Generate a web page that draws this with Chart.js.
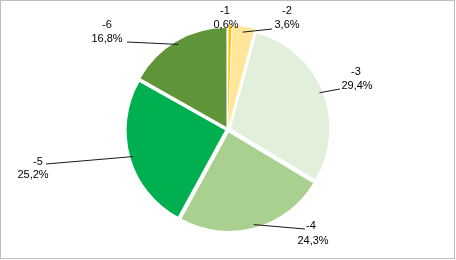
<!DOCTYPE html>
<html>
<head>
<meta charset="utf-8">
<script src="https://cdn.jsdelivr.net/npm/chart.js@4"></script>
<style>
  html, body { margin: 0; padding: 0; background: #fff; }
  #wrap { position: relative; width: 456px; height: 260px; }
</style>
</head>
<body>
<div id="wrap"><canvas id="c" width="456" height="260"></canvas></div>
<script>
const categories = ['-1', '-2', '-3', '-4', '-5', '-6'];
const values = [0.6, 3.6, 29.4, 24.3, 25.2, 16.8];
const percentLabels = ['0,6%', '3,6%', '29,4%', '24,3%', '25,2%', '16,8%'];
const colors = ['#FFC000', '#FFE699', '#E2EFDA', '#A9D08E', '#00B050', '#609438'];

// Label layout (text centres and leader-line end points), separate from data
const labelLayout = [
  { cat: [225, 11], pct: [226, 25], lineEnd: null },
  { cat: [287, 11], pct: [287, 25], lineEnd: [272, 29] },
  { cat: [356, 72], pct: [357, 86], lineEnd: [340, 89] },
  { cat: [311, 226], pct: [313, 241], lineEnd: [305, 229] },
  { cat: [38, 162], pct: [33, 175], lineEnd: [46, 164] },
  { cat: [107, 25], pct: [107, 39], lineEnd: [127, 42] }
];

const labelPlugin = {
  id: 'labelPlugin',
  afterDraw(chart) {
    const ctx = chart.ctx;
    const meta = chart.getDatasetMeta(0);
    ctx.save();
    ctx.strokeStyle = '#1a1a1a';
    ctx.lineWidth = 1;
    meta.data.forEach((arc, i) => {
      const L = labelLayout[i];
      if (!L.lineEnd) return;
      const p = arc.getProps(['x', 'y', 'startAngle', 'endAngle', 'outerRadius'], true);
      const mid = (p.startAngle + p.endAngle) / 2;
      const sx = p.x + Math.cos(mid) * (p.outerRadius);
      const sy = p.y + Math.sin(mid) * (p.outerRadius);
      ctx.beginPath();
      ctx.moveTo(sx, sy);
      ctx.lineTo(L.lineEnd[0], L.lineEnd[1]);
      ctx.stroke();
    });
    ctx.fillStyle = '#000';
    ctx.font = '11px "Liberation Sans", Arial, sans-serif';
    ctx.textAlign = 'center';
    ctx.textBaseline = 'middle';
    categories.forEach((c, i) => {
      const L = labelLayout[i];
      ctx.fillText(c, L.cat[0], L.cat[1]);
      ctx.fillText(percentLabels[i], L.pct[0], L.pct[1]);
    });
    ctx.strokeStyle = '#BFBFBF';
    ctx.lineWidth = 1;
    ctx.strokeRect(0.5, 0.5, chart.width - 2, chart.height - 2);
    ctx.restore();
  }
};

new Chart(document.getElementById('c'), {
  type: 'pie',
  data: {
    labels: categories,
    datasets: [{
      data: values,
      backgroundColor: colors,
      borderColor: '#ffffff',
      borderWidth: 0,
      offset: 12
    }]
  },
  options: {
    responsive: false,
    animation: false,
    layout: { padding: { top: 25, bottom: 26, left: 100, right: 100 } },
    plugins: {
      legend: { display: false },
      tooltip: { enabled: false }
    }
  },
  plugins: [labelPlugin]
});
</script>
</body>
</html>
